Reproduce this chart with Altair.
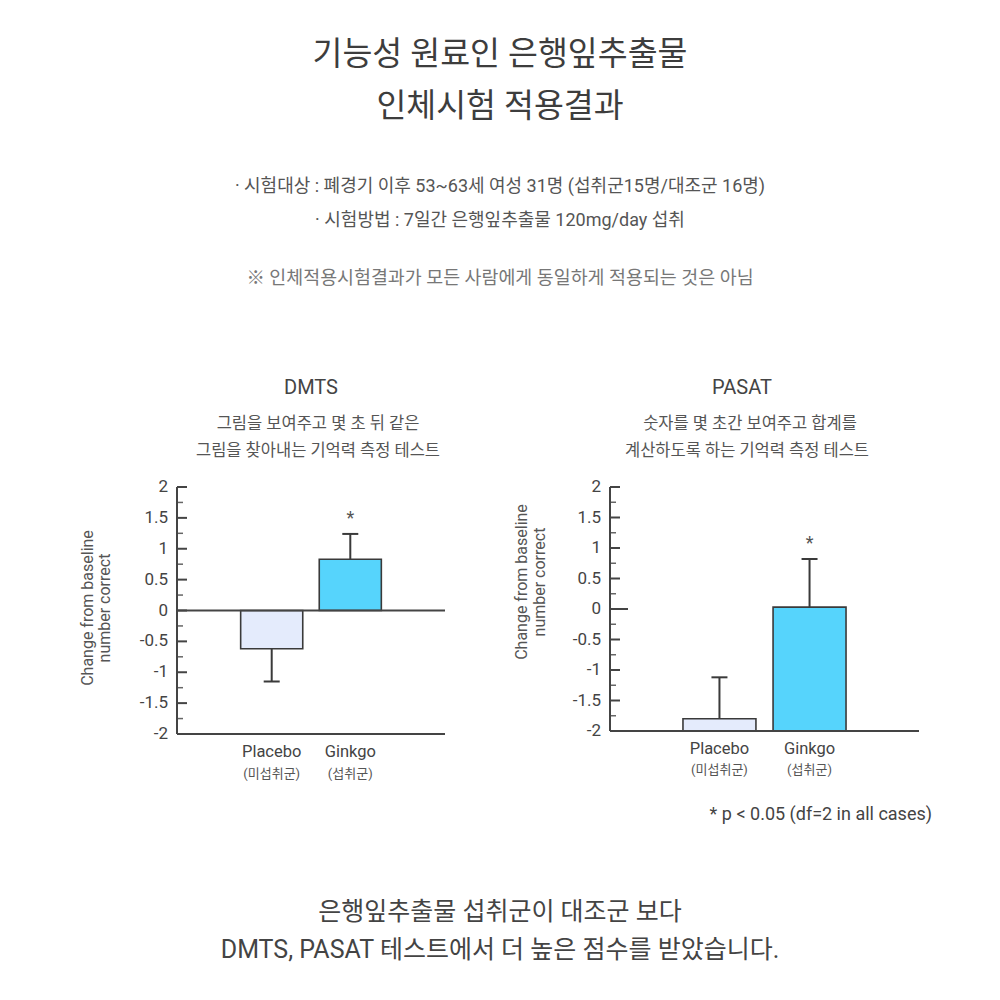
import altair as alt
import pandas as pd

FONT = "Roboto, 'Noto Sans CJK KR', sans-serif"
DARK = "#3a3a3a"

# ---------------- text content ----------------
title_lines = ["기능성 원료인 은행잎추출물", "인체시험 적용결과"]
info_lines = ["· 시험대상 : 폐경기 이후 53~63세 여성 31명 (섭취군15명/대조군 16명)",
              "· 시험방법 : 7일간 은행잎추출물 120mg/day 섭취"]
note_line = "※ 인체적용시험결과가 모든 사람에게 동일하게 적용되는 것은 아님"
bottom_lines = ["은행잎추출물 섭취군이 대조군 보다",
                "DMTS, PASAT 테스트에서 더 높은 점수를 받았습니다."]
panel_titles = ["DMTS", "PASAT"]
dmts_desc = ["그림을 보여주고 몇 초 뒤 같은", "그림을 찾아내는 기억력 측정 테스트"]
pasat_desc = ["숫자를 몇 초간 보여주고 합계를", "계산하도록 하는 기억력 측정 테스트"]
yaxis_title = ["Change from baseline", "number correct"]
footnote = "* p < 0.05 (df=2 in all cases)"

# ---------------- data ----------------
categories = ["Placebo", "Ginkgo"]
cat_sub = ["(미섭취군)", "(섭취군)"]
bar_colors = ["#e4ebfc", "#56d4fc"]
sig = ["", "*"]

dmts_mean = [-0.62, 0.83]
dmts_err_end = [-1.15, 1.24]
dmts_base = 0

pasat_mean = [-1.80, 0.03]
pasat_err_end = [-1.12, 0.82]
pasat_base = -2

major_ticks = [2, 1.5, 1, 0.5, 0, -0.5, -1, -1.5, -2]
major_labels = ["2", "1.5", "1", "0.5", "0", "-0.5", "-1", "-1.5", "-2"]
minor_ticks = [1.75, 1.25, 0.75, 0.25, -0.25, -0.75, -1.25, -1.75]


def P(v):
    # page pixel -> chart pixel (page has 8px margin, chart padding 0)
    return v - 8


def label(text, x, y, size, color="#444", align="center", angle=0, weight="normal"):
    return alt.Chart(pd.DataFrame({"t": [text]})).mark_text(
        align=align, baseline="middle", fontSize=size, color=color, font=FONT,
        angle=angle, fontWeight=weight
    ).encode(x=alt.value(P(x)), y=alt.value(P(y)), text="t:N")


def panel(means, err_end, base, axis_x, x_end, y_top, y_bot, p_in, p_out,
          lab_y, sub_y, zero_full):
    df = pd.DataFrame({"cat": categories, "sub": cat_sub, "mean": means,
                       "err": err_end, "base": [base] * len(categories), "sig": sig})
    xs = alt.Scale(domain=categories, range=[P(axis_x), P(x_end)],
                   paddingInner=p_in, paddingOuter=p_out)
    ys = alt.Scale(domain=[-2, 2], range=[P(y_bot), P(y_top)], nice=False, zero=False)
    X = alt.X("cat:N", scale=xs, axis=None, sort=categories)

    def Y(f):
        return alt.Y(f, scale=ys, axis=None)

    base_ch = alt.Chart(df)
    err_rule = base_ch.mark_rule(color=DARK, strokeWidth=2).encode(
        x=X, y=Y("mean:Q"), y2="err:Q")
    bars = base_ch.mark_bar(stroke=DARK, strokeWidth=1.6).encode(
        x=X, y=Y("mean:Q"), y2="base:Q",
        color=alt.Color("cat:N", scale=alt.Scale(domain=categories, range=bar_colors),
                        legend=None))
    caps = base_ch.mark_tick(color=DARK, thickness=2, size=16, opacity=1).encode(
        x=X, y=Y("err:Q"))
    stars = base_ch.mark_text(dy=-15, fontSize=18, color="#555", font=FONT).encode(
        x=X, y=Y("err:Q"), text="sig:N")
    cat_lab = base_ch.mark_text(fontSize=16.5, color="#444", font=FONT,
                                baseline="middle").encode(
        x=X, y=alt.value(P(lab_y)), text="cat:N")
    sub_lab = base_ch.mark_text(fontSize=13, color="#555", font=FONT,
                                baseline="middle").encode(
        x=X, y=alt.value(P(sub_y)), text="sub:N")

    # axis built through the y scale
    vline = alt.Chart(pd.DataFrame({"a": [-2], "b": [2]})).mark_rule(
        color="#444", strokeWidth=2).encode(x=alt.value(P(axis_x)), y=Y("a:Q"), y2="b:Q")
    bline = alt.Chart(pd.DataFrame({"v": [-2]})).mark_rule(
        color="#444", strokeWidth=2).encode(
        x=alt.value(P(axis_x)), x2=alt.value(P(x_end)), y=Y("v:Q"))
    maj = alt.Chart(pd.DataFrame({"v": major_ticks, "lab": major_labels})).mark_rule(
        color="#444", strokeWidth=2).encode(
        x=alt.value(P(axis_x)), x2=alt.value(P(axis_x) + 10), y=Y("v:Q"))
    mino = alt.Chart(pd.DataFrame({"v": minor_ticks})).mark_rule(
        color="#666", strokeWidth=1.5).encode(
        x=alt.value(P(axis_x)), x2=alt.value(P(axis_x) + 6), y=Y("v:Q"))
    labs = alt.Chart(pd.DataFrame({"v": major_ticks, "lab": major_labels})).mark_text(
        align="right", baseline="middle", fontSize=17, color="#444", font=FONT).encode(
        x=alt.value(P(axis_x) - 9), y=Y("v:Q"), text="lab:N")
    zero_end = x_end if zero_full else axis_x + 18
    zline = alt.Chart(pd.DataFrame({"v": [0]})).mark_rule(
        color="#444", strokeWidth=2).encode(
        x=alt.value(P(axis_x)), x2=alt.value(P(zero_end)), y=Y("v:Q"))

    return alt.layer(mino, maj, labs, err_rule, bars, caps, stars, zline, vline, bline,
                     cat_lab, sub_lab)


dmts = panel(dmts_mean, dmts_err_end, dmts_base, axis_x=177, x_end=445,
             y_top=487, y_bot=734, p_in=0.21, p_out=0.81, lab_y=752, sub_y=774,
             zero_full=True)
pasat = panel(pasat_mean, pasat_err_end, pasat_base, axis_x=610, x_end=919,
              y_top=487, y_bot=731, p_in=0.19, p_out=0.81, lab_y=749, sub_y=770,
              zero_full=False)

texts = [
    label(title_lines[0], 500, 55, 32.5, "#3d3d3d"),
    label(title_lines[1], 500, 107, 32.5, "#3d3d3d"),
    label(info_lines[0], 500, 187, 18, "#555"),
    label(info_lines[1], 500, 221, 18, "#555"),
    label(note_line, 500, 278, 18.4, "#777"),
    label(panel_titles[0], 311, 388, 20, "#444"),
    label(dmts_desc[0], 318, 424, 16.5, "#555"),
    label(dmts_desc[1], 318, 451, 16.5, "#555"),
    label(panel_titles[1], 742, 388, 20, "#444"),
    label(pasat_desc[0], 750, 424, 16.5, "#555"),
    label(pasat_desc[1], 747, 451, 16.5, "#555"),
    label(yaxis_title[0], 88, 608, 16, "#555", angle=270),
    label(yaxis_title[1], 105, 608, 16, "#555", angle=270),
    label(yaxis_title[0], 522, 582, 16, "#555", angle=270),
    label(yaxis_title[1], 540, 582, 16, "#555", angle=270),
    label(footnote, 932, 815, 18, "#444", align="right"),
    label(bottom_lines[0], 500, 912, 25, "#444"),
    label(bottom_lines[1], 500, 950, 25, "#444"),
]

chart = alt.layer(*texts, dmts, pasat).resolve_scale(
    x="independent", y="independent"
).properties(
    width=984, height=984,
    autosize=alt.AutoSizeParams(type="none"),
    padding=0, background="white"
).configure_view(strokeWidth=0)

chart.save("out.html", embed_options={"renderer": "svg", "actions": False})
